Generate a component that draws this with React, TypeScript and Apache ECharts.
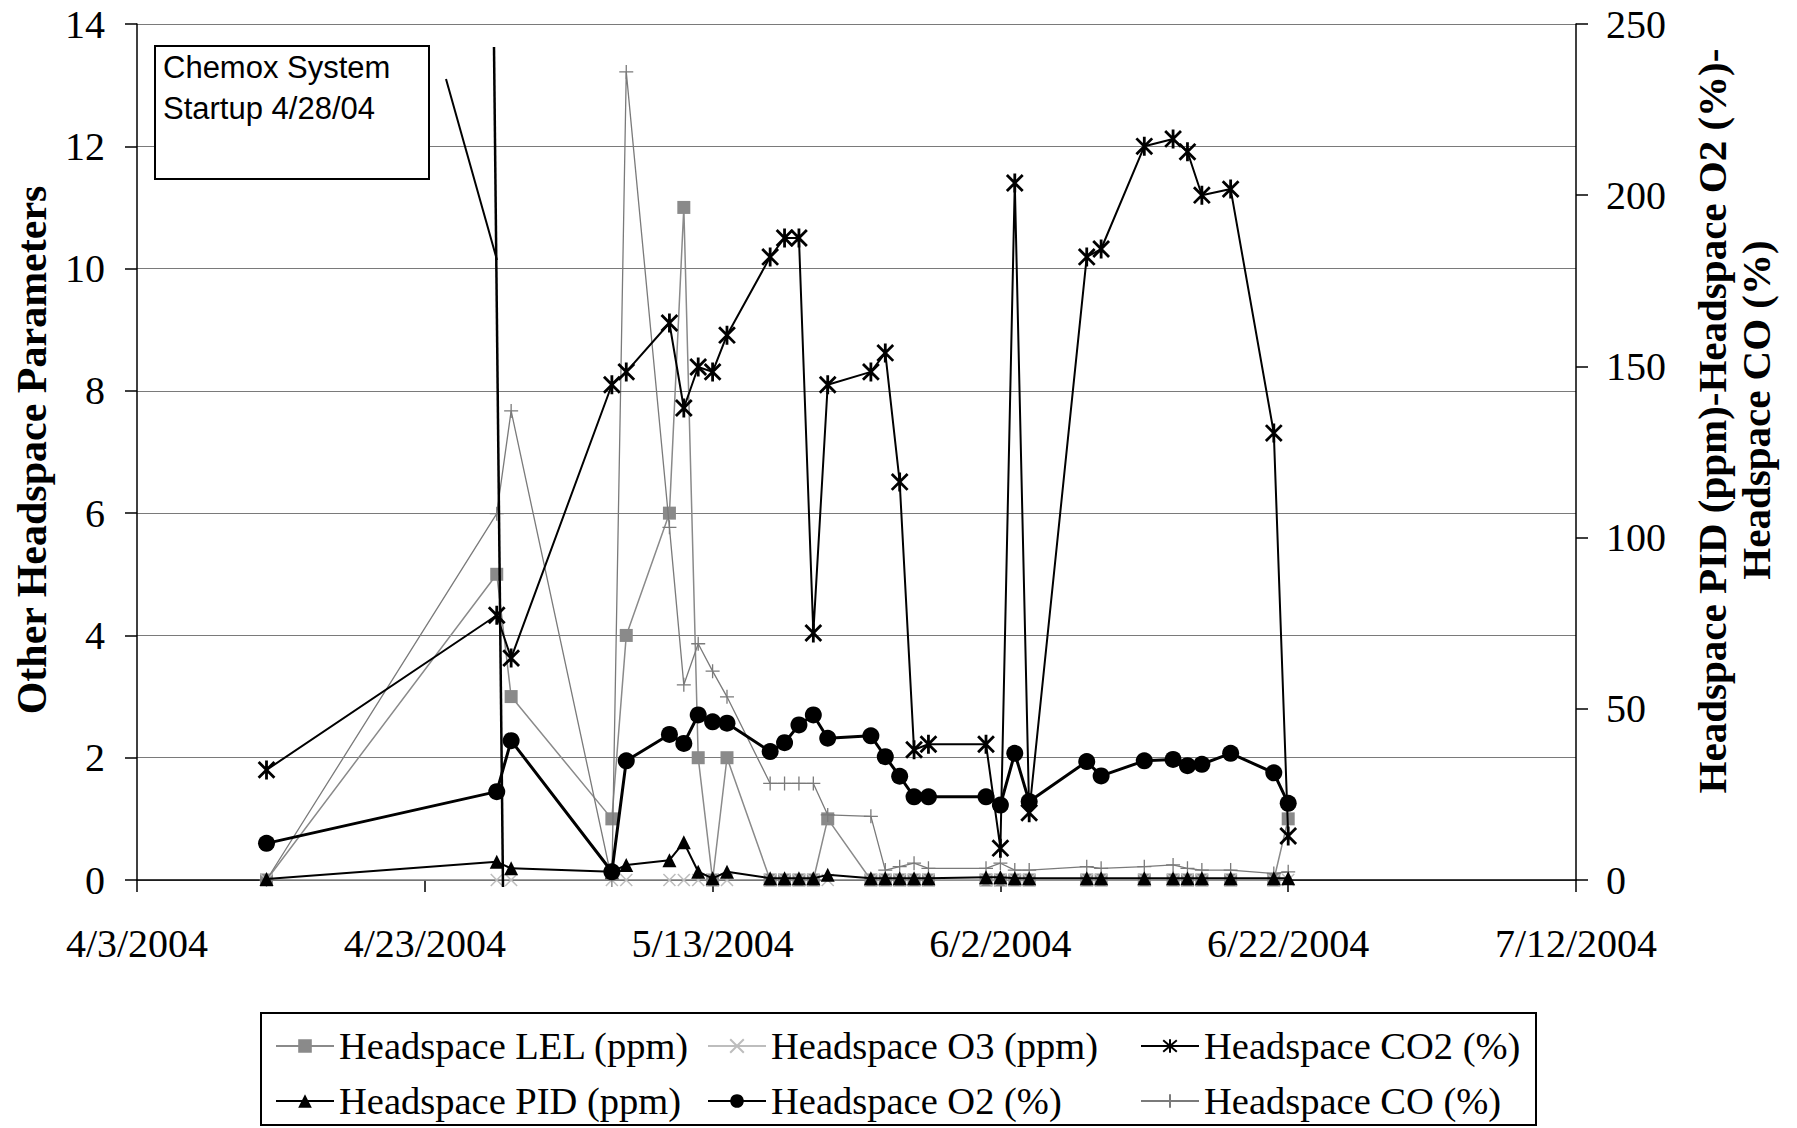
import React, { useEffect, useRef } from "react";
import * as echarts from "echarts";

// ---- data ----
const dates = [
  "2004-04-12", "2004-04-28", "2004-04-29", "2004-05-06", "2004-05-07", "2004-05-10",
  "2004-05-11", "2004-05-12", "2004-05-13", "2004-05-14", "2004-05-17", "2004-05-18",
  "2004-05-19", "2004-05-20", "2004-05-21", "2004-05-24", "2004-05-25", "2004-05-26",
  "2004-05-27", "2004-05-28", "2004-06-01", "2004-06-02", "2004-06-03", "2004-06-04",
  "2004-06-08", "2004-06-09", "2004-06-12", "2004-06-14", "2004-06-15", "2004-06-16",
  "2004-06-18", "2004-06-21", "2004-06-22",
];

const lel = [0, 5.0, 3.0, 1.0, 4.0, 6.0, 11.0, 2.0, 0, 2.0, 0, 0, 0, 0, 1.0, 0, 0, 0, 0, 0, 0, 0, 0, 0, 0, 0, 0, 0, 0, 0, 0, 0, 1.0];
const o3 = [0, 0, 0, 0, 0, 0, 0, 0, 0, 0, 0, 0, 0, 0, 0, 0, 0, 0, 0, 0, 0, 0, 0, 0, 0, 0, 0, 0, 0, 0, 0, 0, 0];
const co2 = [1.8, 4.33, 3.63, 8.1, 8.31, 9.11, 7.72, 8.39, 8.31, 8.91, 10.19, 10.5, 10.5, 4.04, 8.1, 8.31, 8.62, 6.51, 2.13, 2.22, 2.22, 0.52, 11.4, 1.1, 10.19, 10.32, 12.0, 12.12, 11.91, 11.2, 11.3, 7.31, 0.72];
const pid = [0.3, 5.3, 3.4, 2.4, 4.4, 5.8, 11.0, 2.4, 0.5, 2.4, 0.5, 0.5, 0.5, 0.5, 1.5, 0.5, 0.5, 0.5, 0.5, 0.5, 0.8, 0.8, 0.5, 0.5, 0.5, 0.5, 0.5, 0.5, 0.5, 0.5, 0.5, 0.5, 0.5];
const o2 = [10.7, 25.8, 40.7, 2.4, 34.8, 42.5, 39.9, 48.2, 46.2, 45.8, 37.5, 40.1, 45.3, 48.2, 41.4, 42.1, 36.0, 30.3, 24.3, 24.3, 24.3, 21.9, 37.0, 22.9, 34.6, 30.4, 34.8, 35.2, 33.4, 33.8, 37.0, 31.3, 22.4];
const co = [0, 107, 137, 0, 236, 103, 57, 69, 61, 53.5, 28.2, 28.2, 28.2, 28.2, 19.0, 18.6, 2.9, 3.9, 4.9, 3.4, 3.4, 4.9, 2.9, 2.9, 3.9, 3.4, 3.9, 4.4, 3.4, 2.9, 2.9, 1.9, 2.4];

const leftTicks = { min: 0, max: 14, interval: 2 };
const rightTicks = { min: 0, max: 250, interval: 50 };
const xDays = { min: 0, max: 100, interval: 20 }; // days from 4/3/2004

const names = {
  lel: "Headspace LEL (ppm)",
  o3: "Headspace O3 (ppm)",
  co2: "Headspace CO2 (%)",
  pid: "Headspace PID (ppm)",
  o2: "Headspace O2 (%)",
  co: "Headspace CO (%)",
};

// ---- helpers ----
const BASE = Date.UTC(2004, 3, 3);
const DAY = 86400000;
const dayIndex = (s: string) => {
  const [y, m, d] = s.split("-").map(Number);
  return (Date.UTC(y, m - 1, d) - BASE) / DAY;
};
const pairs = (vals: number[]) => dates.map((s, i) => [dayIndex(s), vals[i]]);
const fmtDate = (v: number) => {
  const dt = new Date(BASE + v * DAY);
  return `${dt.getUTCMonth() + 1}/${dt.getUTCDate()}/${dt.getUTCFullYear()}`;
};

const SERIF = "'Liberation Serif', 'Times New Roman', serif";
const SANS = "'Liberation Sans', Arial, sans-serif";

const X_SYM = "path://M0,0L10,10M10,0L0,10";
const STAR_SYM = "path://M0,0L10,10M10,0L0,10M5,-1L5,11";
const PLUS_SYM = "path://M5,0L5,10M0,5L10,5";

const legendText = { fontSize: 38.5, fontFamily: SERIF, color: "#000", lineHeight: 40 };

const legendCol = (left: number, data: string[]) => ({
  left,
  top: 1026,
  orient: "vertical",
  padding: 0,
  height: 100,
  itemWidth: 58,
  itemHeight: 17,
  itemGap: 15,
  selectedMode: false,
  textStyle: legendText,
  data,
});

function buildOption(): any {
  return {
    animation: false,
    backgroundColor: "#fff",
    grid: { left: 137, right: 221, top: 24, bottom: 248, containLabel: false },
    xAxis: {
      type: "value",
      min: xDays.min,
      max: xDays.max,
      interval: xDays.interval,
      axisLine: { lineStyle: { color: "#000", width: 1.5 } },
      axisTick: { show: true, length: 12, lineStyle: { color: "#000", width: 1.5 } },
      axisLabel: {
        formatter: (v: number) => fmtDate(v),
        fontSize: 40,
        fontFamily: SERIF,
        color: "#000",
        margin: 43,
        showMinLabel: true,
        showMaxLabel: true,
      },
      splitLine: { show: false },
    },
    yAxis: [
      {
        type: "value",
        position: "left",
        min: leftTicks.min,
        max: leftTicks.max,
        interval: leftTicks.interval,
        axisLine: { show: true, lineStyle: { color: "#000", width: 1.5 } },
        axisTick: { show: true, length: 12, lineStyle: { color: "#000", width: 1.5 } },
        axisLabel: { fontSize: 40, fontFamily: SERIF, color: "#000", margin: 32 },
        splitLine: { show: true, lineStyle: { color: "#7a7a7a", width: 1 } },
      },
      {
        type: "value",
        position: "right",
        min: rightTicks.min,
        max: rightTicks.max,
        interval: rightTicks.interval,
        axisLine: { show: true, lineStyle: { color: "#000", width: 1.5 } },
        axisTick: { show: true, length: 12, lineStyle: { color: "#000", width: 1.5 } },
        axisLabel: { fontSize: 40, fontFamily: SERIF, color: "#000", margin: 30 },
        splitLine: { show: false },
      },
    ],
    legend: [
      legendCol(275, [names.lel, names.pid]),
      legendCol(707, [names.o3, names.o2]),
      legendCol(1140, [names.co2, names.co]),
    ],
    graphic: [
      // legend frame
      {
        type: "rect", z: 0, silent: true,
        shape: { x: 261, y: 1013, width: 1275, height: 112 },
        style: { fill: "none", stroke: "#000", lineWidth: 2 },
      },
      // axis titles
      {
        type: "text", x: 32, y: 450, rotation: Math.PI / 2, silent: true,
        style: {
          text: "Other Headspace Parameters", fill: "#000",
          font: `bold 42px ${SERIF}`, align: "center", verticalAlign: "middle",
        },
      },
      {
        type: "text", x: 1712, y: 421, rotation: Math.PI / 2, silent: true,
        style: {
          text: "Headspace PID (ppm)-Headspace O2 (%)-", fill: "#000",
          font: `bold 41px ${SERIF}`, align: "center", verticalAlign: "middle",
        },
      },
      {
        type: "text", x: 1756, y: 410, rotation: Math.PI / 2, silent: true,
        style: {
          text: "Headspace CO (%)", fill: "#000",
          font: `bold 41px ${SERIF}`, align: "center", verticalAlign: "middle",
        },
      },
      // annotation box
      {
        type: "rect", z: 50, silent: true,
        shape: { x: 155, y: 46, width: 274, height: 133 },
        style: { fill: "#fff", stroke: "#000", lineWidth: 2 },
      },
      {
        type: "text", z: 51, x: 163, y: 47, silent: true,
        style: {
          text: "Chemox System\nStartup 4/28/04", fill: "#000",
          font: `31px ${SANS}`, lineHeight: 41, align: "left", verticalAlign: "top",
        },
      },
      {
        type: "line", z: 50, silent: true,
        shape: { x1: 446, y1: 79, x2: 497, y2: 260 },
        style: { stroke: "#000", lineWidth: 2 },
      },
      {
        type: "line", z: 50, silent: true,
        shape: { x1: 494, y1: 47, x2: 503, y2: 887 },
        style: { stroke: "#000", lineWidth: 2.5 },
      },
    ],
    series: [
      {
        name: names.lel, type: "line", yAxisIndex: 0, z: 2, data: pairs(lel),
        symbol: "rect", symbolSize: 13,
        lineStyle: { color: "#8a8a8a", width: 1.5 },
        itemStyle: { color: "#8a8a8a" },
      },
      {
        name: names.o3, type: "line", yAxisIndex: 0, z: 2, data: pairs(o3),
        symbol: X_SYM, symbolSize: 12,
        lineStyle: { color: "#bdbdbd", width: 1.5 },
        itemStyle: { color: "#bdbdbd", borderColor: "#bdbdbd", borderWidth: 1.5 },
      },
      {
        name: names.co2, type: "line", yAxisIndex: 0, z: 4, data: pairs(co2),
        symbol: STAR_SYM, symbolSize: 19, symbolKeepAspect: true,
        lineStyle: { color: "#000", width: 2 },
        itemStyle: { color: "#000", borderColor: "#000", borderWidth: 2.8 },
      },
      {
        name: names.pid, type: "line", yAxisIndex: 1, z: 4, data: pairs(pid),
        symbol: "triangle", symbolSize: 14,
        lineStyle: { color: "#000", width: 2 },
        itemStyle: { color: "#000" },
      },
      {
        name: names.o2, type: "line", yAxisIndex: 1, z: 5, data: pairs(o2),
        symbol: "circle", symbolSize: 17,
        lineStyle: { color: "#000", width: 3 },
        itemStyle: { color: "#000" },
      },
      {
        name: names.co, type: "line", yAxisIndex: 1, z: 3, data: pairs(co),
        symbol: PLUS_SYM, symbolSize: 14,
        lineStyle: { color: "#7a7a7a", width: 1.3 },
        itemStyle: { color: "#7a7a7a", borderColor: "#7a7a7a", borderWidth: 1.3 },
      },
    ],
  };
}

export default function App() {
  const ref = useRef<HTMLDivElement>(null);
  useEffect(() => {
    if (!ref.current) return;
    const chart = echarts.init(ref.current, null, { renderer: "svg" });
    chart.setOption(buildOption());
    return () => chart.dispose();
  }, []);
  return (
    <div
      ref={ref}
      style={{ position: "fixed", left: 0, top: 0, width: 1797, height: 1128, background: "#fff" }}
    />
  );
}
